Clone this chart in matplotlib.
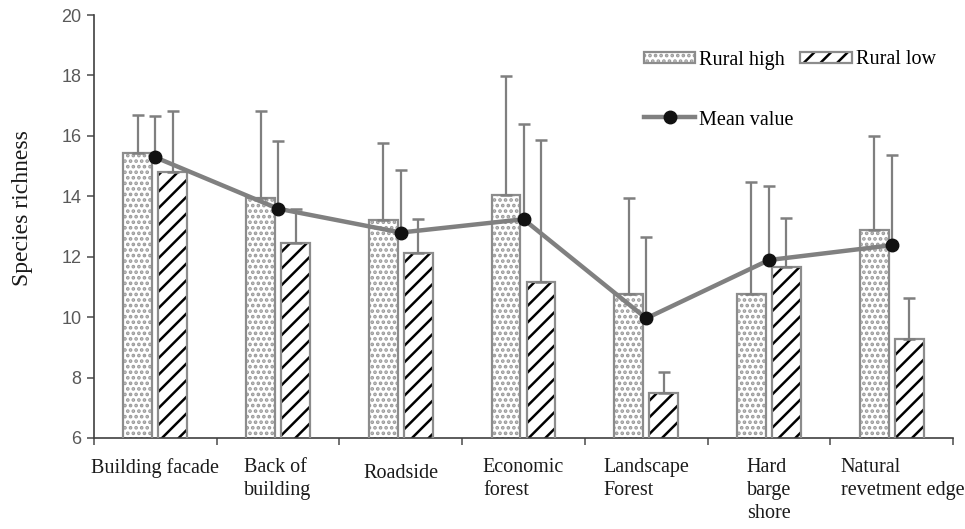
import matplotlib
matplotlib.use("Agg")
import matplotlib.pyplot as plt
import matplotlib.transforms as mtransforms
from matplotlib.patches import Patch
from matplotlib.lines import Line2D
import numpy as np

# ---------------- data ----------------
categories = ["Building facade", "Back of\nbuilding", "Roadside", "Economic\nforest",
              "Landscape\nForest", "Hard\nbarge\nshore", "Natural\nrevetment edge"]
rural_high = [15.44, 13.95, 13.21, 14.03, 10.78, 10.77, 12.88]
rural_high_err = [1.24, 2.87, 2.55, 3.96, 3.15, 3.71, 3.11]
rural_low = [14.80, 12.46, 12.11, 11.17, 7.48, 11.67, 9.29]
rural_low_err = [2.01, 1.13, 1.14, 4.68, 0.72, 1.60, 1.33]
mean_value = [15.29, 13.59, 12.80, 13.24, 9.96, 11.89, 12.38]
mean_err = [1.37, 2.23, 2.08, 3.15, 2.69, 2.45, 2.99]
yticks = [6, 8, 10, 12, 14, 16, 18, 20]

# ---------------- layout / style ----------------
label_x_offset = [0, 0, 0, 0, 0, 0, 0.09]
label_top = [-0.048, -0.048, -0.062, -0.048, -0.048, -0.048, -0.048]

serif = ["Liberation Serif", "DejaVu Serif"]
sans = ["Liberation Sans", "DejaVu Sans"]
plt.rcParams["hatch.linewidth"] = 1.8

fig = plt.figure(figsize=(9.65, 5.29), dpi=100)
ax = fig.add_axes([94 / 965, 91 / 529, 859 / 965, 423 / 529])

x = np.arange(len(categories))
off = 0.143
bw = 0.235
gray_edge = "#8c8c8c"
dot_col = "#9a9a9a"

# Rural high bars: dotted fill
ax.bar(x - off, rural_high, bw, color="white", edgecolor=dot_col,
       hatch="...", linewidth=0, zorder=2)
ax.bar(x - off, rural_high, bw, fill=False, edgecolor=gray_edge, linewidth=1.6, zorder=3)
# Rural low bars: diagonal hatch
ax.bar(x + off, rural_low, bw, color="white", edgecolor="black",
       hatch="//", linewidth=0, zorder=2)
ax.bar(x + off, rural_low, bw, fill=False, edgecolor=gray_edge, linewidth=1.6, zorder=3)

err_kw = dict(fmt="none", ecolor="#7f7f7f", elinewidth=1.6, capsize=4, capthick=1.8, zorder=4)
ax.errorbar(x - off, rural_high, yerr=[np.zeros(len(x)), rural_high_err], **err_kw)
ax.errorbar(x + off, rural_low, yerr=[np.zeros(len(x)), rural_low_err], **err_kw)
ax.errorbar(x, mean_value, yerr=[np.zeros(len(x)), mean_err], **err_kw)

ax.plot(x, mean_value, color="#808080", linewidth=3.2, marker="o", markersize=9,
        markerfacecolor="#111111", markeredgecolor="#111111", zorder=5)

# axes
ax.set_xlim(-0.5, len(categories) - 0.5)
ax.set_ylim(6, 20)
ax.set_yticks(yticks)
ax.set_yticklabels([str(v) for v in yticks], fontfamily=sans, fontsize=13, color="#595959")
ax.set_xticks(np.arange(-0.5, len(categories), 1.0))
ax.set_xticklabels([])
ax.tick_params(axis="both", direction="out", length=5, width=1.2, color="#595959")
ax.tick_params(axis="y", pad=4)
for s in ["top", "right"]:
    ax.spines[s].set_visible(False)
for s in ["left", "bottom"]:
    ax.spines[s].set_color("#404040")
    ax.spines[s].set_linewidth(1.2)

ax.set_ylabel("Species richness", fontfamily=serif, fontsize=17, color="#1a1a1a")
ax.yaxis.set_label_coords(-0.071, (438 - 208) / 423)

trans = mtransforms.blended_transform_factory(ax.transData, ax.transAxes)
for i, lab in enumerate(categories):
    ax.text(x[i] + label_x_offset[i], label_top[i], lab, transform=trans,
            ha="center", va="top", multialignment="left", fontfamily=serif,
            fontsize=14.5, color="#1a1a1a", linespacing=1.28)

# legends
h_high = (Patch(facecolor="white", edgecolor=dot_col, hatch="...", linewidth=0),
          Patch(fill=False, edgecolor=gray_edge, linewidth=1.6))
h_low = (Patch(facecolor="white", edgecolor="black", hatch="//", linewidth=0),
         Patch(fill=False, edgecolor=gray_edge, linewidth=1.6))
leg1 = ax.legend([h_high, h_low], ["Rural high", "Rural low"], ncol=2, frameon=False,
                 loc="center left", bbox_to_anchor=((644 - 94) / 859, (438 - 60) / 423),
                 borderpad=0, borderaxespad=0, handlelength=2.55, handleheight=0.45,
                 handletextpad=0.2, columnspacing=0.75,
                 prop={"family": serif, "size": 14.5})
ax.add_artist(leg1)
h_mean = Line2D([], [], color="#808080", linewidth=3.2, marker="o", markersize=9,
                markerfacecolor="#111111", markeredgecolor="#111111")
ax.legend([h_mean], ["Mean value"], frameon=False, loc="center left",
          bbox_to_anchor=((644 - 94) / 859, (438 - 120) / 423),
          borderpad=0, borderaxespad=0, handlelength=2.55, handletextpad=0.2,
          prop={"family": serif, "size": 14.5})

fig.savefig("out.png", dpi=100)
